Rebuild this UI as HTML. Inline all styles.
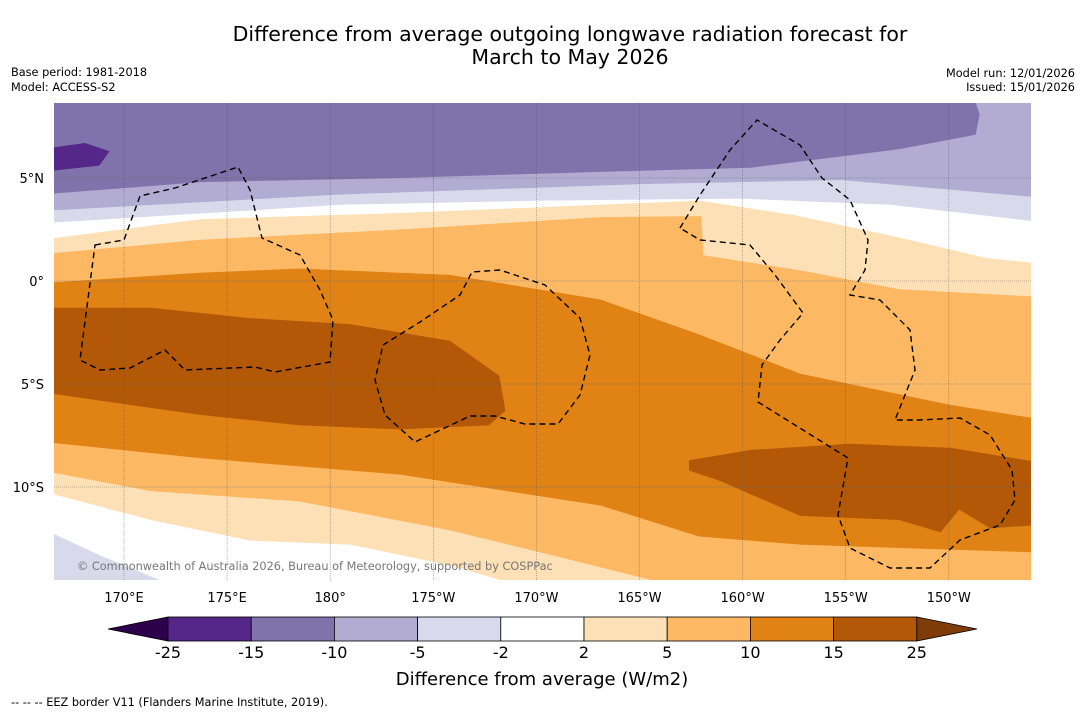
<!DOCTYPE html>
<html><head><meta charset="utf-8"><style>
body{margin:0;background:#fff;width:1085px;height:713px;overflow:hidden;font-family:"DejaVu Sans","Liberation Sans",sans-serif}
svg{display:block;font-family:"DejaVu Sans","Liberation Sans",sans-serif}
</style></head><body>
<svg id="s" width="1085" height="713">
<text x="570" y="41" font-size="20.5" text-anchor="middle">Difference from average outgoing longwave radiation forecast for</text>
<text x="570" y="64" font-size="20.5" text-anchor="middle">March to May 2026</text>
<text x="11" y="76" font-size="11.3">Base period: 1981-2018</text>
<text x="11" y="91" font-size="11.3">Model: ACCESS-S2</text>
<text x="1075" y="77" font-size="11.3" text-anchor="end">Model run: 12/01/2026</text>
<text x="1075" y="91" font-size="11.3" text-anchor="end">Issued: 15/01/2026</text>
<defs><clipPath id="mc"><rect x="54" y="103" width="977" height="477"/></clipPath></defs>
<g id="map" clip-path="url(#mc)">
<rect x="54" y="103" width="977" height="477" fill="#e08214"/>
</g>
<g id="axes"></g>
<g id="cbar"></g>
<text x="542" y="685" font-size="18" text-anchor="middle">Difference from average (W/m2)</text>
<text x="11" y="706" font-size="11.3">--  --  -- EEZ border V11 (Flanders Marine Institute, 2019).</text>
</svg>
<script>
const NS="http://www.w3.org/2000/svg";
const lonTicks=[170,175,180,185,190,195,200,205,210];
const lonLabels=["170°E","175°E","180°","175°W","170°W","165°W","160°W","155°W","150°W"];
const latTicks=[5,0,-5,-10];
const latLabels=["5°N","0°","5°S","10°S"];
const cbLevels=["-25","-15","-10","-5","-2","2","5","10","15","25"];
const cbColors=["#542788","#8073ac","#b2abd2","#d8daeb","#ffffff","#fee0b6","#fdb863","#e08214","#b35806"];
// contour boundaries [lon, lat]
const topOrange=[[166,-0.1],[173.7,0.4],[178.5,0.6],[185.8,0.3],[193.1,-0.9],[197.9,-2.6],[202.8,-4.5],[210,-6.0],[215,-6.8]];
const topLightOrange=[[166,1.3],[173.7,2.0],[183.4,2.5],[193.1,3.1],[198.0,3.15],[198.1,1.25],[202.9,0.5],[207.6,-0.4],[215,-0.8]];
const topWhite=[[166,2.0],[173.7,3.0],[183.4,3.3],[193.1,3.7],[197.9,3.9],[202.5,3.2],[207.2,2.2],[211.9,1.1],[215,0.8]];
const topPale=[[166,2.8],[180.5,3.7],[190.2,3.9],[199.9,4.0],[207.2,3.7],[215,2.8]];
const topLilac=[[166,3.4],[180.5,4.2],[195,4.7],[204.8,4.9],[215,4.0]];
const topPurple=[[166,4.2],[173.7,4.8],[183.4,5.0],[193.1,5.3],[200.4,5.5],[207.6,6.4],[211.3,7.1],[211.5,8.1],[211,9.5]];
const darkPurple=[[166,6.4],[168.1,6.7],[169.3,6.3],[168.8,5.6],[166,5.3]];
const blobWest=[[166,-1.3],[171.3,-1.3],[176.1,-1.8],[181,-2.1],[185.8,-2.9],[188.2,-4.6],[188.5,-6.3],[187.7,-7.0],[183.4,-7.2],[178.5,-7.0],[173.7,-6.5],[168.8,-5.8],[166,-5.4]];
const blobEast=[[197.4,-8.7],[200.4,-8.2],[205.2,-7.9],[210.1,-8.1],[215,-8.9],[215,-11.8],[212,-12.0],[210.5,-11.1],[209.6,-12.2],[207.6,-11.6],[202.8,-11.4],[198.9,-9.7],[197.4,-9.2]];
const botLightOrange=[[166,-7.8],[173.7,-8.6],[183.4,-9.4],[193.1,-10.9],[197.9,-12.4],[202.8,-12.8],[215,-13.2]];
const botPeach=[[166,-9.2],[171.3,-10.2],[178.5,-10.7],[185.8,-12.1],[190.7,-13.3],[195.5,-14.5],[197,-16]];
const botWhite=[[166,-10.2],[171.3,-11.6],[176.1,-12.6],[181,-12.8],[185.8,-13.8],[188.2,-14.5],[189,-16]];
const botPale=[[166,-12.0],[168.8,-13.3],[171.7,-14.5],[172,-16]];
const X=lon=>124+(lon-170)*20.62;
const Y=lat=>281-lat*20.6;
const map=document.getElementById('map');
function poly(pts,fill,name,mode){
  let p=pts.map(q=>[X(q[0]),Y(q[1])]);
  if(mode==='down'){p=[[0,700],[0,p[0][1]],...p,[1100,p[p.length-1][1]],[1100,700]];}
  const e=document.createElementNS(NS,'polygon');
  e.setAttribute('points',p.map(a=>a.join(',')).join(' '));
  e.setAttribute('fill',fill);
  
  
  map.appendChild(e);
}
function upPoly(pts,fill,name){
  const p=pts.map(q=>[X(q[0]),Y(q[1])]);
  const all=[[0,20],[0,p[0][1]],...p,[1100,p[p.length-1][1]],[1100,20]];
  const e=document.createElementNS(NS,'polygon');
  e.setAttribute('points',all.map(a=>a.join(',')).join(' '));
  e.setAttribute('fill',fill);
  
  
  map.appendChild(e);
}
upPoly(topOrange,"#fdb863","contour-5-10-north");
upPoly(topLightOrange,"#fee0b6","contour-2-5-north");
upPoly(topWhite,"#ffffff","contour-neutral-north");
upPoly(topPale,"#d8daeb","contour-minus5-north");
upPoly(topLilac,"#b2abd2","contour-minus10-north");
upPoly(topPurple,"#8073ac","contour-minus15-north");
poly(darkPurple,"#542788","contour-minus25-blob");
poly(blobWest,"#b35806","contour-15-west-blob");
poly(blobEast,"#b35806","contour-15-east-blob");
poly(botLightOrange,"#fdb863","contour-5-10-south","down");
poly(botPeach,"#fee0b6","contour-2-5-south","down");
poly(botWhite,"#ffffff","contour-neutral-south","down");
poly(botPale,"#d8daeb","contour-minus5-south","down");
lonTicks.forEach((t,i)=>{
  const l=document.createElementNS(NS,'line');
  l.setAttribute('x1',X(t));l.setAttribute('x2',X(t));l.setAttribute('y1',103);l.setAttribute('y2',580);
  l.setAttribute('stroke','#555');l.setAttribute('stroke-width','0.6');l.setAttribute('stroke-dasharray','1 1');l.setAttribute('opacity','0.7');
  
  
  map.appendChild(l);
});
latTicks.forEach(t=>{
  const l=document.createElementNS(NS,'line');
  l.setAttribute('x1',54);l.setAttribute('x2',1031);l.setAttribute('y1',Y(t));l.setAttribute('y2',Y(t));
  l.setAttribute('stroke','#555');l.setAttribute('stroke-width','0.6');l.setAttribute('stroke-dasharray','1 1');l.setAttribute('opacity','0.7');
  
  
  map.appendChild(l);
});
const eez=["M95,245 L124,240 L140,196 L175,188 L238,167 L250,190 L262,238 L300,255 L320,290 L333,320 L330,362 L275,372 L255,367 L185,370 L165,350 L130,368 L100,370 L80,360 Z",
"M383,345 L420,322 L460,295 L472,272 L500,270 L545,285 L580,318 L590,355 L580,395 L558,424 L525,424 L495,416 L470,416 L415,442 L385,415 L375,380 Z",
"M680,228 L700,195 L730,150 L757,120 L800,145 L822,178 L850,200 L868,240 L865,270 L850,295 L880,300 L910,330 L915,370 L895,420 L920,420 L960,418 L990,435 L1012,470 L1015,500 L1000,525 L960,540 L930,568 L890,568 L850,548 L838,515 L848,458 L758,402 L762,365 L780,340 L803,313 L775,275 L750,245 L700,240 Z"];
eez.forEach(d=>{
  const p=document.createElementNS(NS,'path');
  p.setAttribute('d',d);p.setAttribute('fill','none');p.setAttribute('stroke','#000');p.setAttribute('stroke-width','1.4');p.setAttribute('stroke-dasharray','6 4');
  
  
  map.appendChild(p);
});
const cp=document.createElementNS(NS,'text');
cp.setAttribute('x',77);cp.setAttribute('y',570);cp.setAttribute('font-size','11.3');cp.setAttribute('fill','#777');
cp.textContent="© Commonwealth of Australia 2026, Bureau of Meteorology, supported by COSPPac";


map.appendChild(cp);
const axes=document.getElementById('axes');
lonTicks.forEach((t,i)=>{
  const e=document.createElementNS(NS,'text');
  e.setAttribute('x',X(t));e.setAttribute('y',602);e.setAttribute('font-size','13');e.setAttribute('text-anchor','middle');
  e.textContent=lonLabels[i];
  
  
  axes.appendChild(e);
});
latTicks.forEach((t,i)=>{
  const e=document.createElementNS(NS,'text');
  e.setAttribute('x',44);e.setAttribute('y',Y(t)+5);e.setAttribute('font-size','13');e.setAttribute('text-anchor','end');
  e.textContent=latLabels[i];
  
  
  axes.appendChild(e);
});
const cb=document.getElementById('cbar');
const cx0=168,cw=83.2,cy=617,ch=24;
const lt=document.createElementNS(NS,'polygon');
lt.setAttribute('points',`${cx0},${cy} 108,${cy+ch/2} ${cx0},${cy+ch}`);lt.setAttribute('fill','#2d004b');lt.setAttribute('stroke','#000');lt.setAttribute('stroke-width','0.8');


cb.appendChild(lt);
cbColors.forEach((c,i)=>{
  const r=document.createElementNS(NS,'rect');
  r.setAttribute('x',cx0+i*cw);r.setAttribute('y',cy);r.setAttribute('width',cw);r.setAttribute('height',ch);
  r.setAttribute('fill',c);r.setAttribute('stroke','#000');r.setAttribute('stroke-width','0.8');
  
  
  cb.appendChild(r);
});
const rt=document.createElementNS(NS,'polygon');
const ce=cx0+cbColors.length*cw;
rt.setAttribute('points',`${ce},${cy} 977,${cy+ch/2} ${ce},${cy+ch}`);rt.setAttribute('fill','#7f3b08');rt.setAttribute('stroke','#000');rt.setAttribute('stroke-width','0.8');


cb.appendChild(rt);
cbLevels.forEach((v,i)=>{
  const e=document.createElementNS(NS,'text');
  e.setAttribute('x',cx0+i*cw);e.setAttribute('y',658);e.setAttribute('font-size','16');e.setAttribute('text-anchor','middle');
  e.textContent=v;
  
  
  cb.appendChild(e);
});
</script>
</body></html>
